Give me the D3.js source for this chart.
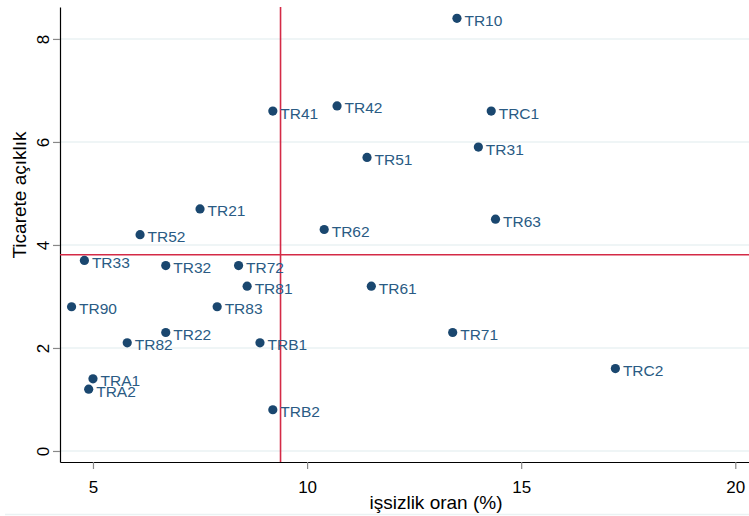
<!DOCTYPE html>
<html>
<head>
<meta charset="utf-8">
<script src="https://cdn.jsdelivr.net/npm/d3@7"></script>
<style>
  body { margin: 0; background: #fff; }
  text { font-family: "Liberation Sans", Arial, sans-serif; }
</style>
</head>
<body>
<script>
// data
var regions = ["TR10","TR41","TR42","TRC1","TR31","TR51","TR21","TR63","TR52","TR62",
               "TR33","TR32","TR72","TR81","TR61","TR90","TR83","TR22","TR71","TR82",
               "TRB1","TRC2","TRA1","TRA2","TRB2"];
var unemployment = [13.5, 9.2, 10.7, 14.3, 14.0, 11.4, 7.5, 14.4, 6.1, 10.4,
                    4.8, 6.7, 8.4, 8.6, 11.5, 4.5, 7.9, 6.7, 13.4, 5.8,
                    8.9, 17.2, 5.0, 4.9, 9.2];
var openness = [8.4, 6.6, 6.7, 6.6, 5.9, 5.7, 4.7, 4.5, 4.2, 4.3,
                3.7, 3.6, 3.6, 3.2, 3.2, 2.8, 2.8, 2.3, 2.3, 2.1,
                2.1, 1.6, 1.4, 1.2, 0.8];
var xTicks = [5, 10, 15, 20];
var yTicks = [0, 2, 4, 6, 8];
var xMean = 9.38;   // vertical reference line
var yMean = 3.81;   // horizontal reference line

var width = 749, height = 516;
var plotLeft = 60, plotRight = 749, plotTop = 7, plotBottom = 462;

var svg = d3.select("body").append("svg")
    .attr("width", width)
    .attr("height", height);

var x = d3.scaleLinear().domain([4.23, 20.32]).range([plotLeft, plotRight]);
var y = d3.scaleLinear().domain([-0.214, 8.62]).range([plotBottom, plotTop]);

// faint outer frame line at the bottom
svg.append("line")
    .attr("x1", 5).attr("x2", width)
    .attr("y1", 514.5).attr("y2", 514.5)
    .attr("stroke", "#eaf2f3").attr("stroke-width", 1.5);

// grid lines
svg.append("g").selectAll("line")
    .data(yTicks)
    .enter().append("line")
    .attr("x1", plotLeft).attr("x2", plotRight)
    .attr("y1", function(d) { return y(d); })
    .attr("y2", function(d) { return y(d); })
    .attr("stroke", "#eaf2f3")
    .attr("stroke-width", 1.5);

// y axis
var yAxis = svg.append("g")
    .attr("transform", "translate(" + plotLeft + ",0)")
    .call(d3.axisLeft(y).tickValues(yTicks).tickSize(7).tickSizeOuter(0).tickFormat(d3.format("d")));
yAxis.select(".domain").attr("stroke", "#000").attr("stroke-width", 1.2);
yAxis.selectAll(".tick line").attr("stroke", "#888").attr("stroke-width", 1.2);
yAxis.selectAll(".tick text")
    .attr("x", 0).attr("dy", 0).attr("y", 0)
    .attr("transform", "translate(-17,0) rotate(-90)")
    .attr("text-anchor", "middle")
    .attr("dominant-baseline", "central")
    .style("font-size", "17px")
    .attr("fill", "#000");

// x axis
var xAxis = svg.append("g")
    .attr("transform", "translate(0," + plotBottom + ")")
    .call(d3.axisBottom(x).tickValues(xTicks).tickSize(7).tickSizeOuter(0).tickFormat(d3.format("d")));
xAxis.select(".domain").attr("stroke", "#000").attr("stroke-width", 1.2);
xAxis.selectAll(".tick line").attr("stroke", "#888").attr("stroke-width", 1.2);
xAxis.selectAll(".tick text")
    .attr("y", 19)
    .style("font-size", "17px")
    .attr("fill", "#000");

// axis titles
svg.append("text")
    .attr("transform", "translate(26,195) rotate(-90)")
    .attr("text-anchor", "middle")
    .style("font-size", "19px")
    .text("Ticarete açıklık");

svg.append("text")
    .attr("x", 436).attr("y", 509)
    .attr("text-anchor", "middle")
    .style("font-size", "19px")
    .text("işsizlik oran (%)");

// reference lines
svg.append("line")
    .attr("x1", x(xMean)).attr("x2", x(xMean))
    .attr("y1", plotTop).attr("y2", plotBottom)
    .attr("stroke", "#d42a46").attr("stroke-width", 1.6);
svg.append("line")
    .attr("x1", plotLeft).attr("x2", plotRight)
    .attr("y1", y(yMean)).attr("y2", y(yMean))
    .attr("stroke", "#d42a46").attr("stroke-width", 1.6);

// points and labels
var pts = svg.append("g").selectAll("g")
    .data(regions)
    .enter().append("g");

pts.append("circle")
    .attr("cx", function(d, i) { return x(unemployment[i]); })
    .attr("cy", function(d, i) { return y(openness[i]); })
    .attr("r", 4.6)
    .attr("fill", "#1a476f");

pts.append("text")
    .attr("x", function(d, i) { return x(unemployment[i]) + 7.5; })
    .attr("y", function(d, i) { return y(openness[i]) + 7.5; })
    .style("font-size", "15.5px")
    .attr("fill", "#2a5b84")
    .text(function(d) { return d; });
</script>
</body>
</html>
